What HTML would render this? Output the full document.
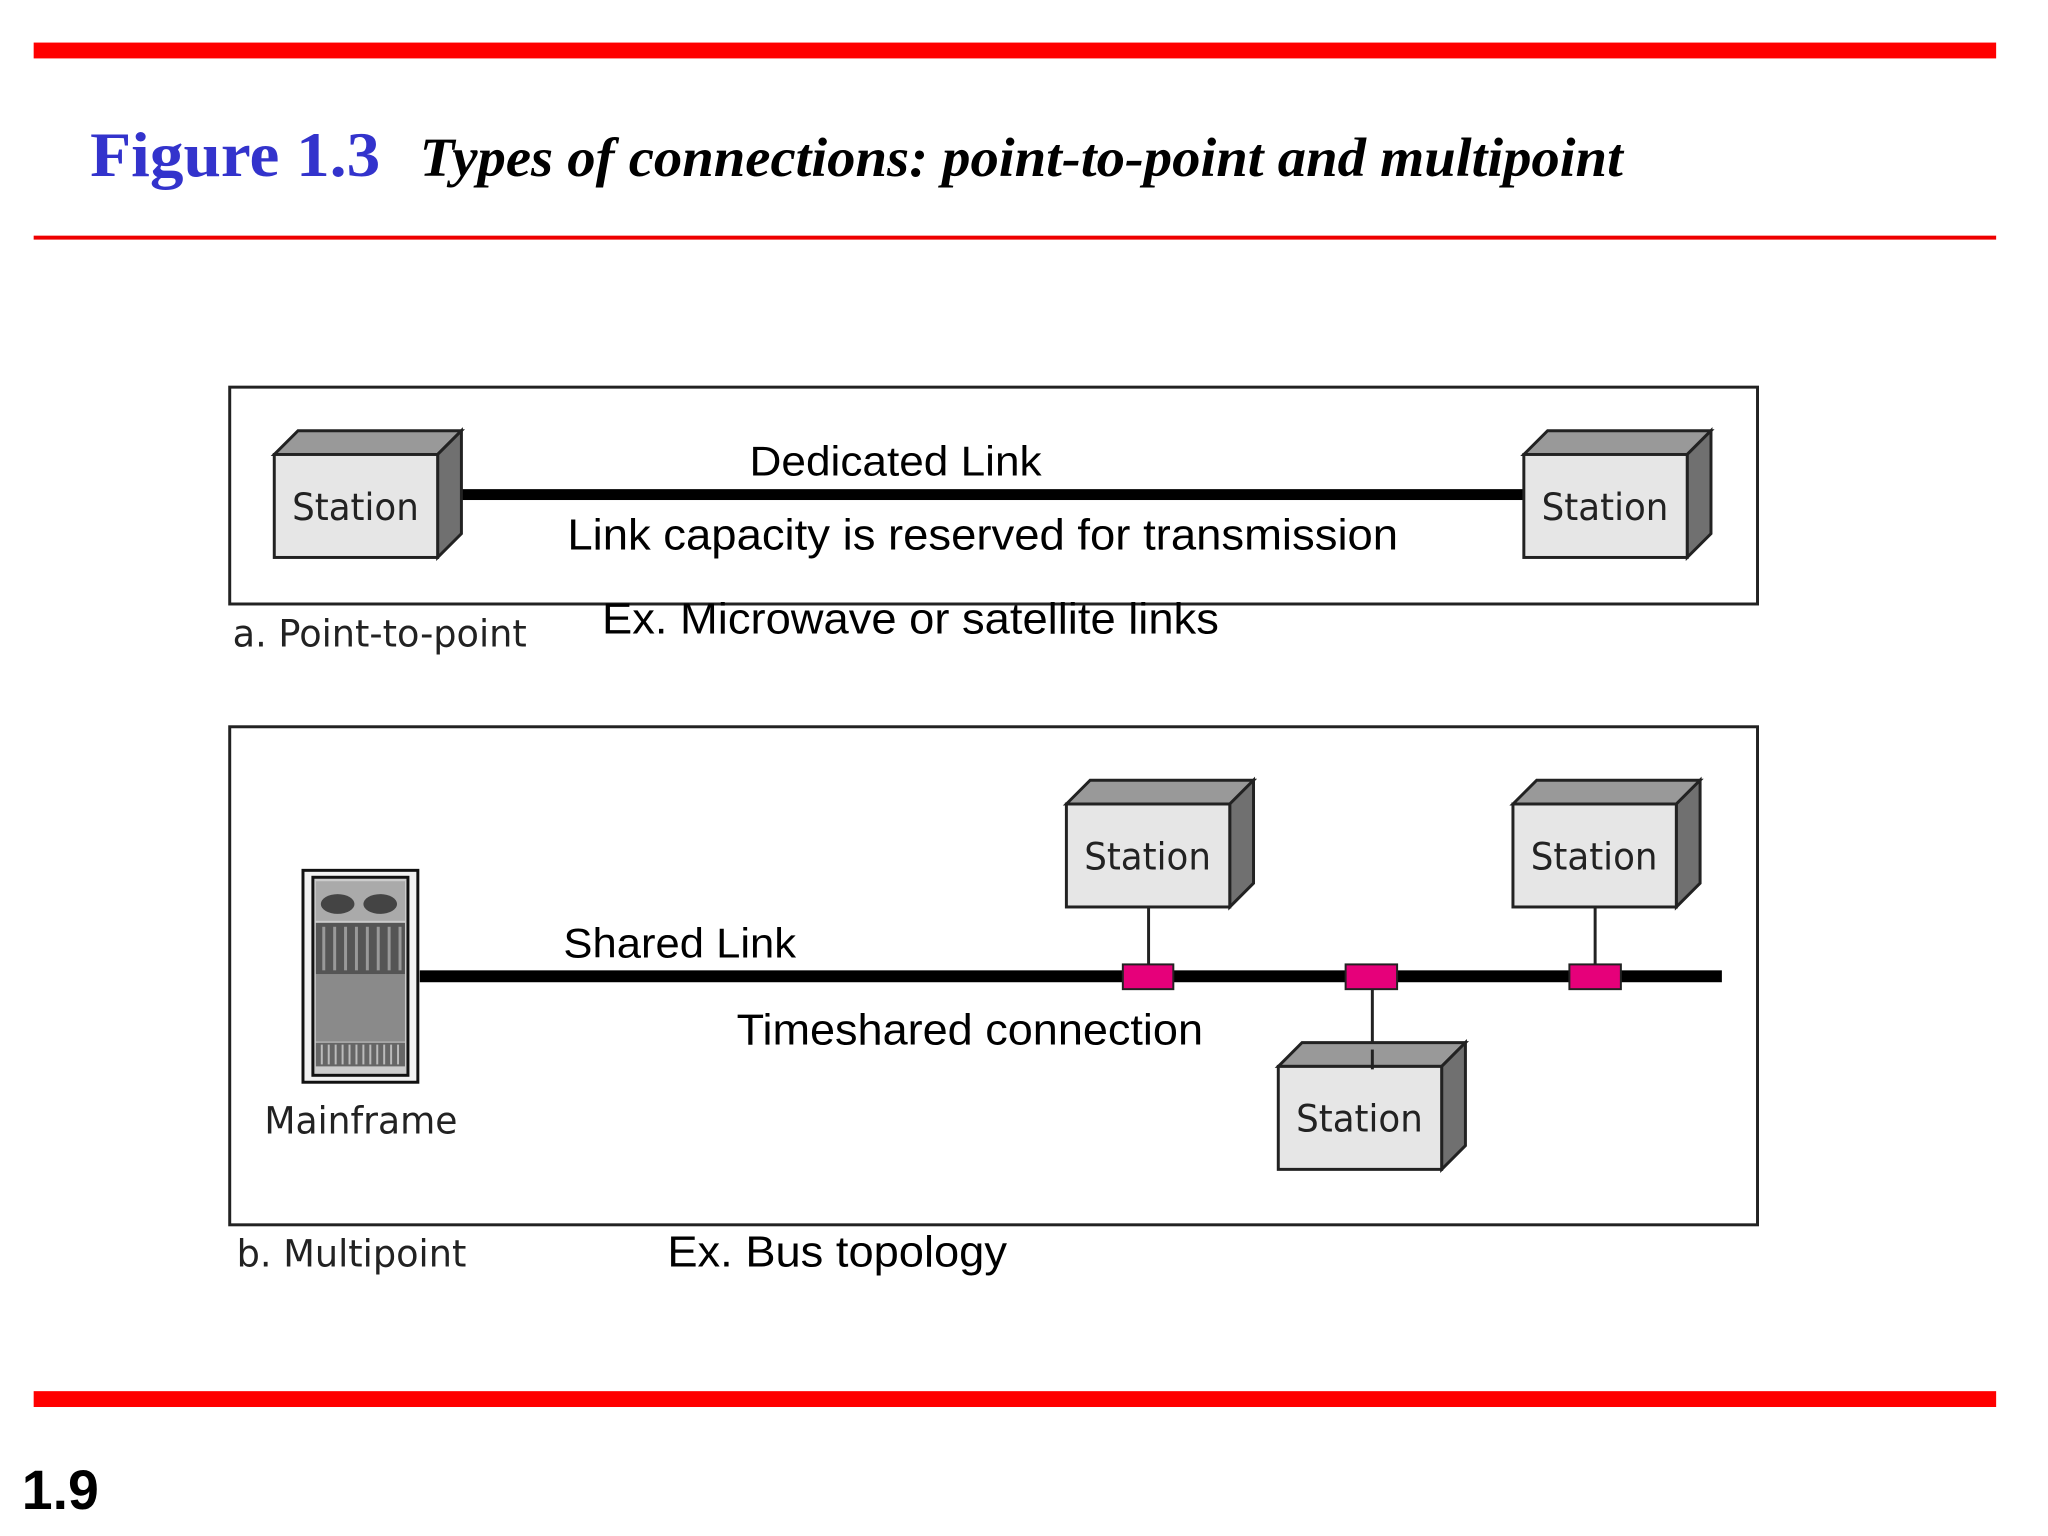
<!DOCTYPE html>
<html><head><meta charset="utf-8"><style>html,body{margin:0;padding:0;background:#fff}svg{display:block}</style></head>
<body>
<svg width="2048" height="1536" viewBox="0 0 2048 1536" xmlns="http://www.w3.org/2000/svg" font-family="Liberation Sans, sans-serif">
<rect width="2048" height="1536" fill="#fff"/>
<defs>
<g id="st">
<polygon points="0,0 24,-24 189,-24 165,0" fill="#999" stroke="#222" stroke-width="3"/>
<polygon points="165,0 189,-24 189,80 165,104" fill="#707070" stroke="#222" stroke-width="3"/>
<rect x="0" y="0" width="165" height="104" fill="#e6e6e6" stroke="#222" stroke-width="3"/>
<text x="82" y="66" font-family="DejaVu Sans, sans-serif" font-size="38" text-anchor="middle" fill="#222" textLength="128" lengthAdjust="spacingAndGlyphs">Station</text>
</g>
</defs>
<g transform="scale(0.99015)">
<rect x="34" y="43" width="1982" height="16" fill="#f00"/>
<rect x="34" y="238" width="1982" height="4" fill="#e00"/>
<rect x="34" y="1405" width="1982" height="16" fill="#f00"/>
<text x="91" y="178" font-family="Liberation Serif, serif" font-weight="bold" font-size="64" fill="#3333cc" textLength="293" lengthAdjust="spacingAndGlyphs">Figure 1.3</text>
<text x="424" y="178" font-family="Liberation Serif, serif" font-weight="bold" font-style="italic" font-size="56" fill="#000" textLength="1215" lengthAdjust="spacingAndGlyphs">Types of connections: point-to-point and multipoint</text>
<text x="22" y="1524" font-weight="bold" font-size="56" fill="#000">1.9</text>

<g fill="none" stroke="#222" stroke-width="3">
<rect x="232" y="391" width="1543" height="219"/>
<rect x="232" y="734" width="1543" height="503"/>
</g>

<rect x="457" y="494" width="1082" height="11" fill="#000"/>
<use href="#st" x="277" y="459"/>
<use href="#st" x="1539" y="459"/>
<text x="757" y="480" font-size="42" textLength="295" lengthAdjust="spacingAndGlyphs">Dedicated Link</text>
<text x="573" y="555" font-size="44" textLength="839" lengthAdjust="spacingAndGlyphs">Link capacity is reserved for transmission</text>
<text x="235" y="653" font-family="DejaVu Sans, sans-serif" font-size="38" fill="#222" textLength="297" lengthAdjust="spacingAndGlyphs">a. Point-to-point</text>
<text x="608" y="640" font-size="44" textLength="623" lengthAdjust="spacingAndGlyphs">Ex. Microwave or satellite links</text>

<rect x="424" y="980" width="1315" height="12" fill="#000"/>
<g stroke="#222" stroke-width="3">
<line x1="1160" y1="916" x2="1160" y2="976"/>
<line x1="1611" y1="916" x2="1611" y2="976"/>
<line x1="1386" y1="996" x2="1386" y2="1080"/>
</g>
<use href="#st" x="1077" y="812"/>
<use href="#st" x="1528" y="812"/>
<use href="#st" x="1291" y="1077"/>
<line x1="1386" y1="1060" x2="1386" y2="1080" stroke="#222" stroke-width="3"/>
<g fill="#e6007a" stroke="#222" stroke-width="2">
<rect x="1134" y="974" width="51" height="25"/>
<rect x="1359" y="974" width="52" height="25"/>
<rect x="1585" y="974" width="52" height="25"/>
</g>

<g transform="translate(3,10)">
<rect x="303" y="869" width="116" height="214" fill="#f2f2f2" stroke="#111" stroke-width="3"/>
<rect x="313" y="876" width="96" height="200" fill="#ccc" stroke="#111" stroke-width="3"/>
<rect x="316" y="880" width="90" height="40" fill="#aaa"/>
<g fill="#444"><ellipse cx="338" cy="903" rx="17" ry="10"/><ellipse cx="381" cy="903" rx="17" ry="10"/></g>
<rect x="316" y="922" width="90" height="52" fill="#555"/>
<g stroke="#999" stroke-width="3">
<line x1="324" y1="926" x2="324" y2="970"/><line x1="335" y1="926" x2="335" y2="970"/><line x1="346" y1="926" x2="346" y2="970"/><line x1="357" y1="926" x2="357" y2="970"/><line x1="368" y1="926" x2="368" y2="970"/><line x1="379" y1="926" x2="379" y2="970"/><line x1="390" y1="926" x2="390" y2="970"/><line x1="401" y1="926" x2="401" y2="970"/>
</g>
<rect x="316" y="974" width="90" height="68" fill="#8a8a8a"/>
<rect x="316" y="1043" width="90" height="24" fill="#666"/>
<g stroke="#bbb" stroke-width="2">
<line x1="322" y1="1045" x2="322" y2="1065"/><line x1="329" y1="1045" x2="329" y2="1065"/><line x1="336" y1="1045" x2="336" y2="1065"/><line x1="343" y1="1045" x2="343" y2="1065"/><line x1="350" y1="1045" x2="350" y2="1065"/><line x1="357" y1="1045" x2="357" y2="1065"/><line x1="364" y1="1045" x2="364" y2="1065"/><line x1="371" y1="1045" x2="371" y2="1065"/><line x1="378" y1="1045" x2="378" y2="1065"/><line x1="385" y1="1045" x2="385" y2="1065"/><line x1="392" y1="1045" x2="392" y2="1065"/><line x1="399" y1="1045" x2="399" y2="1065"/>
</g>
</g>

<text x="569" y="967" font-size="42" textLength="235" lengthAdjust="spacingAndGlyphs">Shared Link</text>
<text x="744" y="1055" font-size="44" textLength="471" lengthAdjust="spacingAndGlyphs">Timeshared connection</text>
<text x="267" y="1145" font-family="DejaVu Sans, sans-serif" font-size="38" fill="#222" textLength="195" lengthAdjust="spacingAndGlyphs">Mainframe</text>
<text x="239" y="1279" font-family="DejaVu Sans, sans-serif" font-size="38" fill="#222" textLength="232" lengthAdjust="spacingAndGlyphs">b. Multipoint</text>
<text x="674" y="1279" font-size="44" textLength="343" lengthAdjust="spacingAndGlyphs">Ex. Bus topology</text>
</g>
</svg>
</body></html>
